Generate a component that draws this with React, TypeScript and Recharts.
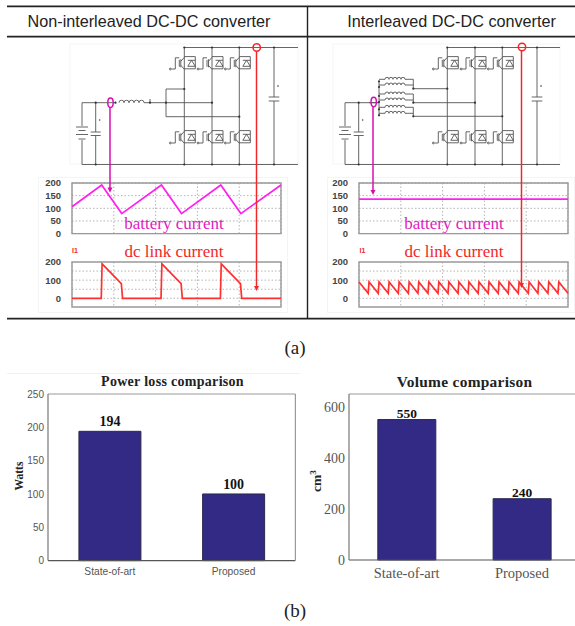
import { Bar, BarChart, CartesianGrid, LabelList, Line, LineChart, ReferenceArea, XAxis, YAxis } from "recharts";

const SANS = "'Liberation Sans', Arial, sans-serif";
const SERIF = "'Liberation Serif', 'Times New Roman', serif";

// time axis of the scope traces runs 0-50 with five grid divisions
const scopeGridTimes = [0, 10, 20, 30, 40, 50];
const batteryTicks = [0, 50, 100, 150, 200];
const dcLinkTicks = [0, 100, 200];

const plainBatteryTimes = [0, 7.1, 11.9, 21.4, 26.2, 35.6, 40.4, 50];
const plainBatteryValues = [106, 192, 79, 192, 79, 192, 79, 192];

const plainDcTimes = [0, 7.0, 7.2, 11.8, 12.1, 21.3, 21.5, 26.1, 26.4, 35.5, 35.7, 40.3, 40.6, 50];
const plainDcValues = [0, 0, 190, 81, 0, 0, 190, 81, 0, 0, 190, 81, 0, 0];

const interleavedBatteryTimes = [0, 50];
const interleavedBatteryValues = [136, 136];

const interleavedDcTimes = [
  0, 2.2, 2.4, 4.6, 4.8, 7.0, 7.2, 9.4, 9.6, 11.8, 12.0, 14.1, 14.3, 16.5, 16.7, 18.9, 19.1, 21.3, 21.5,
  23.7, 23.9, 26.1, 26.3, 28.5, 28.7, 30.9, 31.1, 33.3, 33.5, 35.7, 35.9, 38.1, 38.3, 40.5, 40.7, 42.8, 43.0,
  45.2, 45.4, 47.6, 47.8, 50,
];
const interleavedDcValues = [
  90, 28, 90, 28, 90, 28, 90, 28, 90, 28, 90, 28, 90, 28, 90, 28, 90, 28, 90,
  28, 90, 28, 90, 28, 90, 28, 90, 28, 90, 28, 90, 28, 90, 28, 90, 28, 90,
  28, 90, 28, 90, 28,
];

const barCategories = ["State-of-art", "Proposed"];
const powerLossValues = [194, 100];
const powerLossTicks = [0, 50, 100, 150, 200, 250];
const volumeValues = [550, 240];
const volumeTicks = [0, 200, 400, 600];

type ScopeProps = {
  x: number; y: number; w: number; h: number;
  times: number[]; values: number[]; color: string;
  domain: [number, number]; ticks: number[]; gridTicks: number[];
};

function Scope({ x, y, w, h, times, values, color, domain, ticks, gridTicks }: ScopeProps) {
  const data = times.map((t, i) => ({ t, v: values[i] }));
  return (
    <div style={{ position: "absolute", left: x - 34, top: y - 6 }}>
      <LineChart width={w + 40} height={h + 12} data={data} margin={{ top: 6, right: 6, bottom: 6, left: 0 }}>
        <CartesianGrid stroke="#b4b4b4" strokeDasharray="1.5 2" horizontalValues={gridTicks} verticalValues={scopeGridTimes} />
        <XAxis dataKey="t" type="number" domain={[0, 50]} ticks={scopeGridTimes} hide />
        <YAxis
          width={34}
          domain={domain}
          ticks={ticks}
          interval={0}
          allowDataOverflow
          axisLine={false}
          tickLine={false}
          tickSize={0}
          tickMargin={11}
          tick={{ fontSize: 9.5, fontWeight: 700, fontFamily: SANS, fill: "#444" }}
        />
        <ReferenceArea x1={0} x2={50} y1={domain[0]} y2={domain[1]} fill="none" stroke="#999" strokeWidth={1.4} />
        <Line dataKey="v" type="linear" stroke={color} strokeWidth={1.7} dot={false} isAnimationActive={false} />
      </LineChart>
    </div>
  );
}

type CompareProps = {
  x: number; y: number; w: number; h: number;
  values: number[]; domain: [number, number]; ticks: number[];
  font: string; tickSize: number; catSize: number; labelSize: number; labelOffset: number; catMargin: number;
};

function Compare({ x, y, w, h, values, domain, ticks, font, tickSize, catSize, labelSize, labelOffset, catMargin }: CompareProps) {
  const data = barCategories.map((name, i) => ({ name, value: values[i] }));
  return (
    <div style={{ position: "absolute", left: x - 34, top: y - 6 }}>
      <BarChart width={w + 40} height={h + 30} data={data} barCategoryGap="25%" margin={{ top: 5, right: 5, bottom: 0, left: 0 }}>
        <XAxis
          dataKey="name"
          height={24}
          interval={0}
          axisLine={{ stroke: "#555", strokeWidth: 1.2 }}
          tickLine={false}
          tickSize={0}
          tickMargin={catMargin}
          tick={{ fontSize: catSize, fontFamily: font, fill: "#555" }}
        />
        <XAxis xAxisId="top" orientation="top" dataKey="name" height={1} interval={0} axisLine={{ stroke: "#999", strokeWidth: 1.2 }} tick={false} tickSize={-2} tickLine={{ stroke: "#777" }} />
        <YAxis
          width={34}
          domain={domain}
          ticks={ticks}
          interval={0}
          axisLine={{ stroke: "#777", strokeWidth: 1.2 }}
          tickLine={false}
          tickSize={0}
          tickMargin={4}
          tick={{ fontSize: tickSize, fontFamily: font, fill: "#555" }}
        />
        <YAxis yAxisId="right" orientation="right" width={1} domain={domain} ticks={ticks} interval={0} axisLine={{ stroke: "#999", strokeWidth: 1.2 }} tick={false} tickSize={-2} tickLine={{ stroke: "#777" }} />
        <Bar dataKey="value" fill="#332a85" stroke="#2a2a4a" strokeWidth={1} isAnimationActive={false}>
          <LabelList dataKey="value" position="top" offset={labelOffset} style={{ fontSize: labelSize, fontWeight: 700, fontFamily: SERIF, fill: "#111" }} />
        </Bar>
      </BarChart>
    </div>
  );
}

function Dot({ x, y }: { x: number; y: number }) {
  return <circle cx={x} cy={y} r={1.1} fill="#333" stroke="none" />;
}

// switch symbol drawn around its inverter leg
function Igbt({ x, y }: { x: number; y: number }) {
  return (
    <g fill="none">
      <circle cx={x - 14} cy={y + 5.7} r={0.9} />
      <path d={`M${x - 13} ${y + 5.7}H${x - 9}V${y - 5.5}H${x - 5}M${x - 5} ${y - 3.5}V${y + 3.5}M${x - 3.5} ${y - 4}V${y + 4}M${x - 3.5} ${y - 2}L${x} ${y - 6}M${x - 3.5} ${y + 2}L${x} ${y + 6}`} />
      <path d={`M${x} ${y - 6.7}H${x + 11}V${y + 5.5}H${x}M${x + 3.5} ${y + 3}H${x + 11}L${x + 7.2} ${y - 3}Z M${x + 3.5} ${y - 3}H${x + 11}`} />
    </g>
  );
}

function Bridge({ dx, left, right }: { dx: number; left: number; right: number }) {
  const legs = [184.3 + dx, 212 + dx, 239.3 + dx];
  const capX = 274 + dx;
  const batX = 82 + dx;
  const inCapX = 95.7 + dx;
  return (
    <g stroke="#555" strokeWidth={0.9} fill="none">
      <rect x={left} y={44} width={right - left} height={120} stroke="#f3f3f3" />
      <path d={`M${legs[0]} 47.5H${right}M${batX} 164.5H${right}`} />
      {legs.map((lx) => (
        <g key={lx}>
          <path d={`M${lx} 47.5V164.5`} />
          <Dot x={lx} y={47.5} />
          <Dot x={lx} y={164.5} />
          <Igbt x={lx} y={63.3} />
          <Igbt x={lx} y={137.3} />
        </g>
      ))}
      <path d={`M${capX} 47.5V97M${capX} 101V164.5M${capX - 5.3} 97H${capX + 5.3}M${capX - 5.3} 101H${capX + 5.3}`} />
      <Dot x={capX} y={47.5} />
      <Dot x={capX} y={164.5} />
      <circle cx={capX + 4} cy={86} r={0.5} />
      <path d={`M${batX} 164.5V140M${batX} 126V102.7H${inCapX + 20}`} />
      <path d={`M${batX - 6} 127H${batX + 6}M${batX - 3.5} 130.5H${batX + 3.5}M${batX - 6} 134.5H${batX + 6}M${batX - 3.5} 139H${batX + 3.5}`} />
      <path d={`M${inCapX} 102.7V132M${inCapX} 135.5V164.5M${inCapX - 5} 132H${inCapX + 5}M${inCapX - 5} 135.5H${inCapX + 5}`} />
      <Dot x={inCapX} y={102.7} />
      <Dot x={inCapX} y={164.5} />
      <circle cx={inCapX + 4} cy={120} r={0.5} />
    </g>
  );
}

function Coil({ x, y, n, step }: { x: number; y: number; n: number; step: number }) {
  let d = `M${x} ${y}`;
  for (let i = 0; i < n; i++) d += `a${step / 2} ${step / 2} 0 0 1 ${step} 0`;
  return <path d={d} />;
}

function Overlay() {
  const headerStyle = { fontFamily: SANS, fontSize: 16.2, fill: "#222" };
  const coilRows = [79.3, 85, 94, 100, 107.3, 113.3];
  return (
    <svg width={575} height={626} style={{ position: "absolute", left: 0, top: 0, pointerEvents: "none" }}>
      {/* table rules */}
      <path d="M7 6.3H575M7 36.7H575M7 318.6H575" stroke="#222" strokeWidth={1.7} />
      <path d="M307.5 6V318" stroke="#222" strokeWidth={1.4} />
      <path d="M7 373.5H300" stroke="#f0f0f0" />
      <text x={149} y={27} textAnchor="middle" style={headerStyle}>Non-interleaved DC-DC converter</text>
      <text x={451.5} y={27} textAnchor="middle" style={headerStyle}>Interleaved DC-DC converter</text>

      {/* left schematic */}
      <Bridge dx={0} left={70} right={298} />
      <g stroke="#555" strokeWidth={0.9} fill="none">
        <Coil x={119} y={102.7} n={5} step={5} />
        <path d={`M144 102.7H212M166 102.7V89H184.3M166 102.7V116.7H239.3`} />
        <path d="M150 99V102.7" />
        <Dot x={115.5} y={102.7} />
        <Dot x={150} y={102.7} />
        <Dot x={166} y={102.7} />
        <Dot x={184.3} y={89} />
        <Dot x={212} y={102.7} />
        <Dot x={239.3} y={116.7} />
      </g>

      {/* right schematic */}
      <Bridge dx={263} left={333} right={560} />
      <g stroke="#555" strokeWidth={0.9} fill="none">
        <path d="M379 81V115M379 102.7H369" />
        {coilRows.map((cy) => (
          <g key={cy}>
            <path d={`M379 ${cy}H385`} />
            <Coil x={385} y={cy} n={5} step={4} />
            <path d={`M405 ${cy}H413.3`} />
            <Dot x={379} y={cy + 2} />
          </g>
        ))}
        <path d="M413.3 79.3V88.7M413.3 94V102.7M413.3 107.3V116.3" />
        <path d="M413.3 88.7H447.3M413.3 102.7H475M413.3 116.3H502.3" />
        <Dot x={413.3} y={88.7} />
        <Dot x={413.3} y={102.7} />
        <Dot x={413.3} y={116.3} />
        <Dot x={447.3} y={88.7} />
        <Dot x={475} y={102.7} />
        <Dot x={502.3} y={116.3} />
      </g>

      {/* probes */}
      <g fill="none" strokeWidth={1.5}>
        <ellipse cx={110.5} cy={102.7} rx={2.7} ry={4.7} stroke="#d80fb0" />
        <path d="M110 107.5V190" stroke="#d80fb0" />
        <path d="M107.5 187.5H112.5L110 192.7Z" fill="#d80fb0" stroke="none" />
        <circle cx={256.7} cy={47.5} r={3.7} stroke="#f02828" />
        <path d="M256.5 51V287" stroke="#f02828" />
        <path d="M254 286H259L256.5 291Z" fill="#f02828" stroke="none" />
        <ellipse cx={373.7} cy={102} rx={2.7} ry={4.7} stroke="#d80fb0" />
        <path d="M373 107V193" stroke="#d80fb0" />
        <path d="M370.5 190H375.5L373 195Z" fill="#d80fb0" stroke="none" />
        <circle cx={522} cy={47} r={3.7} stroke="#f02828" />
        <path d="M521.5 50.5V284" stroke="#f02828" />
        <path d="M519 283H524L521.5 288Z" fill="#f02828" stroke="none" />
      </g>

      {/* trace captions */}
      <g style={{ fontFamily: SERIF, fontSize: 17 }}>
        <text x={174} y={229} textAnchor="middle" fill="#e020c0">battery current</text>
        <text x={174} y={257} textAnchor="middle" fill="#f02828">dc link current</text>
        <text x={454} y={229} textAnchor="middle" fill="#e020c0">battery current</text>
        <text x={454} y={257} textAnchor="middle" fill="#f02828">dc link current</text>
      </g>
      <g style={{ fontFamily: SANS, fontSize: 7, fontWeight: 700 }} fill="#f02828">
        <text x={72} y={253}>I1</text>
        <text x={359.5} y={253}>I1</text>
      </g>

      {/* bar chart titles */}
      <text x={172.5} y={386} textAnchor="middle" style={{ fontFamily: SERIF, fontSize: 14, fontWeight: 700, letterSpacing: 0.3, fill: "#222" }}>Power loss comparison</text>
      <text x={464.6} y={387} textAnchor="middle" style={{ fontFamily: SERIF, fontSize: 15.4, fontWeight: 700, letterSpacing: 0.3, fill: "#222" }}>Volume comparison</text>
      <text transform="translate(23,476) rotate(-90)" textAnchor="middle" style={{ fontFamily: SERIF, fontSize: 11.5, fontWeight: 700, fill: "#222" }}>Watts</text>
      <text transform="translate(321,481) rotate(-90)" textAnchor="middle" style={{ fontFamily: SERIF, fontSize: 13.5, fontWeight: 700, fill: "#222" }}>
        cm<tspan dy={-5} fontSize={9}>3</tspan>
      </text>

      {/* panel labels */}
      <text x={295} y={354} textAnchor="middle" style={{ fontFamily: SERIF, fontSize: 19, fill: "#222" }}>(a)</text>
      <text x={295} y={617} textAnchor="middle" style={{ fontFamily: SERIF, fontSize: 19, fill: "#222" }}>(b)</text>
    </svg>
  );
}

export default function App() {
  return (
    <div style={{ position: "absolute", left: 0, top: 0, width: 575, height: 626, overflow: "hidden", background: "#fff" }}>
      <div style={{ position: "absolute", left: 38, top: 177, width: 248, height: 134, border: "1px solid #f4f4f4" }} />
      <div style={{ position: "absolute", left: 327, top: 177, width: 246, height: 134, border: "1px solid #f4f4f4" }} />

      <Scope x={72} y={182.7} w={209} h={50.6} times={plainBatteryTimes} values={plainBatteryValues} color="#ff20f0"
        domain={[0, 200]} ticks={batteryTicks} gridTicks={batteryTicks} />
      <Scope x={72} y={262.3} w={209} h={45} times={plainDcTimes} values={plainDcValues} color="#ff3030"
        domain={[-48, 200]} ticks={dcLinkTicks} gridTicks={[0, 50, 100, 150]} />
      <Scope x={359.3} y={182.7} w={209} h={50.6} times={interleavedBatteryTimes} values={interleavedBatteryValues} color="#ff20f0"
        domain={[0, 200]} ticks={batteryTicks} gridTicks={batteryTicks} />
      <Scope x={359.3} y={262.3} w={209} h={45} times={interleavedDcTimes} values={interleavedDcValues} color="#ff3030"
        domain={[-48, 200]} ticks={dcLinkTicks} gridTicks={[0, 50, 100, 150]} />

      <Compare x={48.3} y={393.7} w={247.4} h={166.6} values={powerLossValues} domain={[0, 250]} ticks={powerLossTicks}
        font={SANS} tickSize={10} catSize={10.2} labelSize={14} labelOffset={5} catMargin={7} />
      <Compare x={349.3} y={394.3} w={230.6} h={166} values={volumeValues} domain={[0, 650]} ticks={volumeTicks}
        font={SERIF} tickSize={14} catSize={14.5} labelSize={13.5} labelOffset={2} catMargin={8} />

      <Overlay />
    </div>
  );
}
